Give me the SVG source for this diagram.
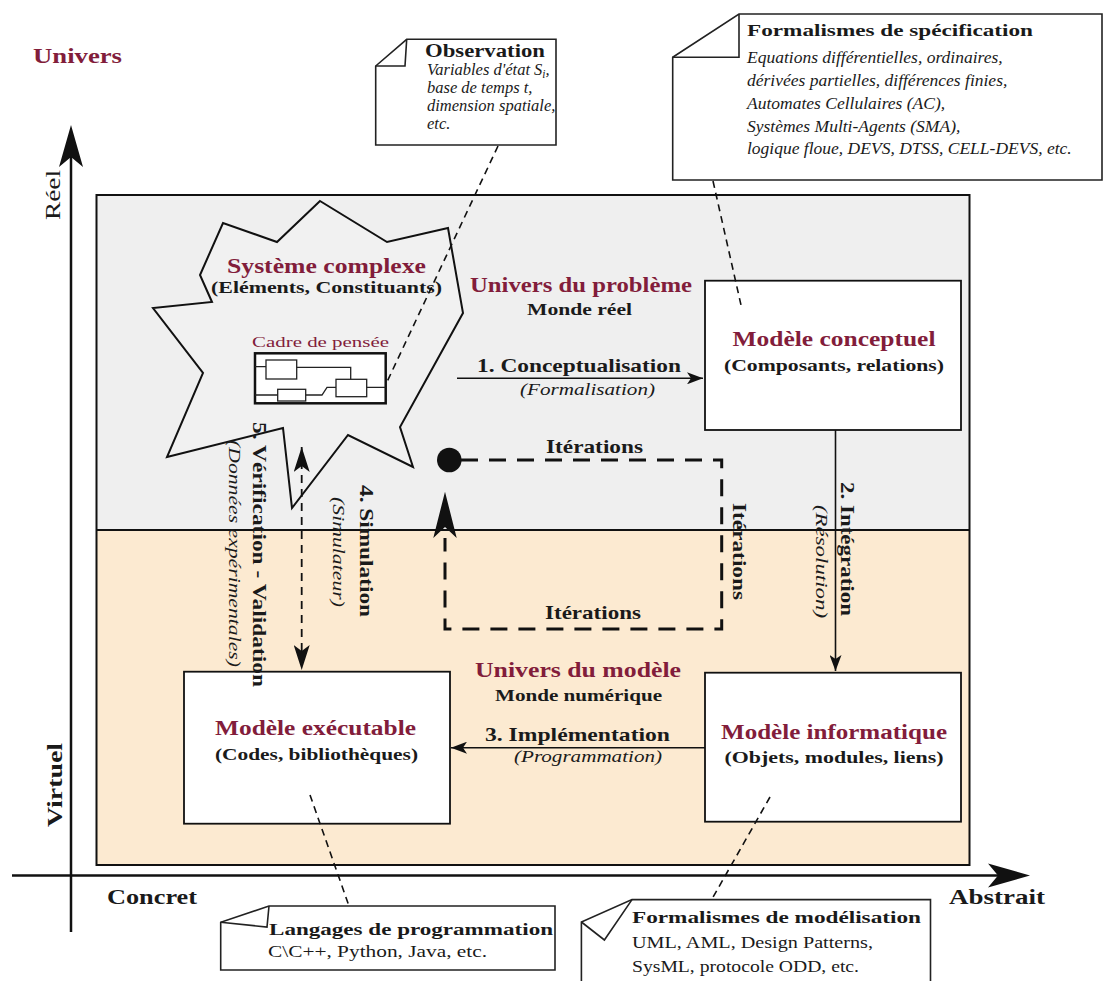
<svg xmlns="http://www.w3.org/2000/svg" width="1110" height="981" viewBox="0 0 1110 981">
<style>
text{font-family:'Liberation Serif','DejaVu Serif',serif;fill:#1a1a1a}
.b{font-weight:bold}
.i{font-style:italic}
.r{fill:#821d3b}
.box{fill:#fff;stroke:#111;stroke-width:1.8}
.note{fill:#fff;stroke:#222;stroke-width:1.6}
.fold{fill:none;stroke:#222;stroke-width:1.6}
.ln{fill:none;stroke:#111;stroke-width:1.6}
.nd{fill:none;stroke:#111;stroke-width:1.6;stroke-dasharray:7 5}
.it{fill:none;stroke:#111;stroke-width:3;stroke-dasharray:17 11}
.ax{fill:none;stroke:#111;stroke-width:2.5}
</style>
<defs>
<marker id="ah" viewBox="0 0 16 12" refX="16" refY="6" markerWidth="16" markerHeight="12" markerUnits="userSpaceOnUse" orient="auto">
<path d="M0,0 L16,6 L0,12 L4,6 Z" fill="#111"/>
</marker>
<marker id="ah2" viewBox="0 0 25 16" refX="25" refY="8" markerWidth="25" markerHeight="16" markerUnits="userSpaceOnUse" orient="auto-start-reverse">
<path d="M0,0 L25,8 L0,16 L6,8 Z" fill="#111"/>
</marker>
</defs>
<rect width="1110" height="981" fill="#fff"/>

<g id="frame">
<rect x="96.5" y="195" width="873" height="335" fill="#efefef"/>
<rect x="96.5" y="530" width="873" height="335" fill="#fcead1"/>
<rect x="96.5" y="195" width="873" height="670" fill="none" stroke="#111" stroke-width="2"/>
<line x1="96.5" y1="530" x2="969.5" y2="530" stroke="#111" stroke-width="2"/>
</g>

<g id="axes">
<line class="ax" x1="71" y1="155" x2="71" y2="932"/>
<path d="M71,125 L83,167 L71,157 L59,167 Z" fill="#111"/>
<line class="ax" x1="12" y1="875.5" x2="1000" y2="875.5"/>
<path d="M1030,875.5 L988,863.5 L998,875.5 L988,887.5 Z" fill="#111"/>
<text class="b r" x="33" y="63" font-size="22" textLength="89" lengthAdjust="spacingAndGlyphs">Univers</text>
<text transform="translate(60,195) rotate(-90)" text-anchor="middle" font-size="21" textLength="50" lengthAdjust="spacingAndGlyphs">Réel</text>
<text class="b" transform="translate(62,785) rotate(-90)" text-anchor="middle" font-size="21" textLength="84" lengthAdjust="spacingAndGlyphs">Virtuel</text>
<text class="b" x="107" y="904" font-size="20" textLength="90" lengthAdjust="spacingAndGlyphs">Concret</text>
<text class="b" x="949" y="904" font-size="20" textLength="96" lengthAdjust="spacingAndGlyphs">Abstrait</text>
</g>

<g id="labels-univers">
<text class="b r" x="470" y="291.5" font-size="22" textLength="222" lengthAdjust="spacingAndGlyphs">Univers du problème</text>
<text class="b" x="527" y="315" font-size="17" textLength="105" lengthAdjust="spacingAndGlyphs">Monde réel</text>
<text class="b r" x="475" y="676.5" font-size="22" textLength="206" lengthAdjust="spacingAndGlyphs">Univers du modèle</text>
<text class="b" x="495" y="701" font-size="17" textLength="167" lengthAdjust="spacingAndGlyphs">Monde numérique</text>
</g>

<g id="systeme-complexe">
<polygon points="320,201 387,242 448,228 463,313 400,427 413,467 348,435 292,508 283,428 167,457 203,373 153,308 212,302 200,275 223,223 277,242" fill="#f1f1f1" stroke="#111" stroke-width="2"/>
<text class="b r" x="227" y="273" font-size="20" textLength="199" lengthAdjust="spacingAndGlyphs">Système complexe</text>
<text class="b" x="211" y="293" font-size="17" textLength="231" lengthAdjust="spacingAndGlyphs">(Eléments, Constituants)</text>
</g>

<g id="cadre-de-pensee">
<text class="r" x="252" y="346.5" font-size="15" textLength="137" lengthAdjust="spacingAndGlyphs">Cadre de pensée</text>
<rect x="255" y="353.3" width="130.7" height="50" fill="#fff" stroke="#111" stroke-width="2.5"/>
<g fill="#fff" stroke="#222" stroke-width="1.3">
<rect x="266" y="360" width="30.7" height="19"/>
<rect x="277.7" y="389.3" width="28" height="11.7"/>
<rect x="336" y="379.3" width="30.7" height="17.4"/>
<path fill="none" d="M255,366.7 H266 M296.7,367.3 H350.7 V379.3 M255,395 H277.7 M305.7,395 H322 L327,387.3 H336 M366.7,387.3 H385.7"/>
</g>
</g>

<g id="modele-conceptuel">
<rect class="box" x="705" y="280.7" width="256" height="149.3"/>
<text class="b r" x="834" y="346" text-anchor="middle" font-size="20" textLength="203" lengthAdjust="spacingAndGlyphs">Modèle conceptuel</text>
<text class="b" x="834" y="371" text-anchor="middle" font-size="17" textLength="220" lengthAdjust="spacingAndGlyphs">(Composants, relations)</text>
</g>

<g id="modele-informatique">
<rect class="box" x="705" y="672.7" width="256" height="149"/>
<text class="b r" x="834" y="739" text-anchor="middle" font-size="20" textLength="226" lengthAdjust="spacingAndGlyphs">Modèle informatique</text>
<text class="b" x="834" y="763" text-anchor="middle" font-size="17" textLength="219" lengthAdjust="spacingAndGlyphs">(Objets, modules, liens)</text>
</g>

<g id="modele-executable">
<rect class="box" x="184" y="671.7" width="266" height="152"/>
<text class="b r" x="215" y="735" font-size="20" textLength="201" lengthAdjust="spacingAndGlyphs">Modèle exécutable</text>
<text class="b" x="215" y="760" font-size="17" textLength="203" lengthAdjust="spacingAndGlyphs">(Codes, bibliothèques)</text>
</g>

<g id="note-observation">
<path class="note" d="M406.7,39.3 L556,39.3 L556,145 L375.7,145 L375.7,66 Z"/>
<path class="fold" d="M406.7,39.3 L405,66 L375.7,66"/>
<text class="b" x="425" y="57" font-size="18" textLength="120" lengthAdjust="spacingAndGlyphs">Observation</text>
<text class="i" x="427" y="75" font-size="16.5">Variables d'état S<tspan dy="3" font-size="11.5">i</tspan><tspan dy="-3">,</tspan></text>
<text class="i" x="427" y="93" font-size="16.5">base de temps t,</text>
<text class="i" x="427" y="111" font-size="16.5">dimension spatiale,</text>
<text class="i" x="427" y="128.5" font-size="16.5">etc.</text>
</g>

<g id="note-specification">
<path class="note" d="M739,14 L1102,14 L1102,180 L672.7,180 L672.7,57.3 Z"/>
<path class="fold" d="M739,14 L739,57.3 L672.7,57.3"/>
<text class="b" x="747" y="36" font-size="17" textLength="286" lengthAdjust="spacingAndGlyphs">Formalismes de spécification</text>
<text class="i" x="747" y="63" font-size="17.5">Equations différentielles, ordinaires,</text>
<text class="i" x="747" y="86" font-size="17.5">dérivées partielles, différences finies,</text>
<text class="i" x="747" y="109" font-size="17.5">Automates Cellulaires (AC),</text>
<text class="i" x="747" y="131.5" font-size="17.5">Systèmes Multi-Agents (SMA),</text>
<text class="i" x="747" y="154" font-size="17.5">logique floue, DEVS, DTSS, CELL-DEVS, etc.</text>
</g>

<g id="note-langages">
<path class="note" d="M269,906 L555,906 L555,970 L220.7,970 L220.7,922.3 Z"/>
<path class="fold" d="M269,906 L267,927 L220.7,922.3"/>
<text class="b" x="269" y="935" font-size="17" textLength="284" lengthAdjust="spacingAndGlyphs">Langages de programmation</text>
<text x="268" y="957" font-size="16" textLength="219" lengthAdjust="spacingAndGlyphs">C\C++, Python, Java, etc.</text>
</g>

<g id="note-modelisation">
<path class="note" d="M632,899.6 L930.5,899.6 L930.5,990 L581.4,990 L581.4,922 Z"/>
<path class="fold" d="M632,899.6 L604.4,940 L581.4,922"/>
<text class="b" x="632" y="923" font-size="17" textLength="289" lengthAdjust="spacingAndGlyphs">Formalismes de modélisation</text>
<text x="632" y="948" font-size="16" textLength="241" lengthAdjust="spacingAndGlyphs">UML, AML, Design Patterns,</text>
<text x="632" y="972" font-size="16" textLength="227" lengthAdjust="spacingAndGlyphs">SysML, protocole ODD, etc.</text>
</g>

<g id="connectors">
<line class="nd" x1="498" y1="146" x2="386" y2="384"/>
<line class="nd" x1="713" y1="181" x2="741" y2="305"/>
<line class="nd" x1="310" y1="795" x2="349" y2="906"/>
<line class="nd" x1="770" y1="797" x2="712" y2="899"/>
<line class="ln" x1="457" y1="378.3" x2="703" y2="378.3" marker-end="url(#ah)"/>
<text class="b" x="477" y="371.5" font-size="19" textLength="204" lengthAdjust="spacingAndGlyphs">1. Conceptualisation</text>
<text class="i" x="520" y="395" font-size="17" textLength="135" lengthAdjust="spacingAndGlyphs">(Formalisation)</text>
<line class="ln" x1="835.5" y1="430" x2="835.5" y2="671" marker-end="url(#ah)"/>
<text class="b" transform="translate(841,482) rotate(90)" font-size="19" textLength="134" lengthAdjust="spacingAndGlyphs">2. Intégration</text>
<text class="i" transform="translate(816,505) rotate(90)" font-size="17" textLength="113" lengthAdjust="spacingAndGlyphs">(Résolution)</text>
<line class="ln" x1="705" y1="747.7" x2="451" y2="747.7" marker-end="url(#ah)"/>
<text class="b" x="485" y="740.5" font-size="19" textLength="185" lengthAdjust="spacingAndGlyphs">3. Implémentation</text>
<text class="i" x="514" y="762" font-size="17" textLength="148" lengthAdjust="spacingAndGlyphs">(Programmation)</text>
<line x1="301.7" y1="447" x2="301.7" y2="670" fill="none" stroke="#111" stroke-width="1.8" stroke-dasharray="8 6" marker-start="url(#ah2)" marker-end="url(#ah2)"/>
<text class="b" transform="translate(360,485) rotate(90)" font-size="19" textLength="132" lengthAdjust="spacingAndGlyphs">4. Simulation</text>
<text class="i" transform="translate(333,497) rotate(90)" font-size="17" textLength="110" lengthAdjust="spacingAndGlyphs">(Simulateur)</text>
<text class="b" transform="translate(253,422) rotate(90)" font-size="18" textLength="265" lengthAdjust="spacingAndGlyphs">5. Vérification - Validation</text>
<text class="i" transform="translate(229,440) rotate(90)" font-size="17" textLength="227" lengthAdjust="spacingAndGlyphs">(Données expérimentales)</text>
<circle cx="449.3" cy="460" r="12.3" fill="#111"/>
<path class="it" d="M461,460 H721.7 V629 H445 V538"/>
<path d="M445,491.7 L456.7,538 L445,527 L433.3,538 Z" fill="#111"/>
<text class="b" x="546" y="453" font-size="19" textLength="97" lengthAdjust="spacingAndGlyphs">Itérations</text>
<text class="b" x="545" y="619" font-size="19" textLength="96" lengthAdjust="spacingAndGlyphs">Itérations</text>
<text class="b" transform="translate(733,503) rotate(90)" font-size="19" textLength="97" lengthAdjust="spacingAndGlyphs">Itérations</text>
</g>
</svg>
